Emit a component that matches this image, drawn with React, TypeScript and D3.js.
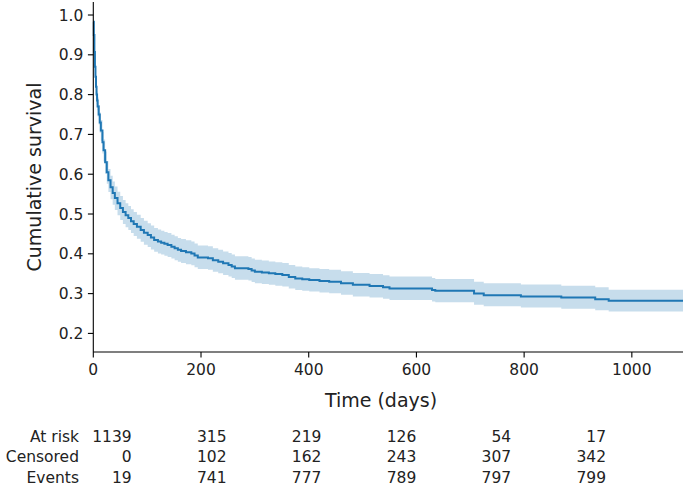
import React from "react";
import * as d3 from "d3";

const times = [0, 1, 2, 3, 4, 5, 6, 7, 8, 10, 12, 14, 17, 19, 22, 25, 28, 32, 36, 40, 45, 50, 55, 60, 65, 70, 75, 81, 88, 94, 101, 107, 113, 120, 126, 132, 138, 145, 151, 157, 163, 172, 182, 188, 194, 213, 222, 232, 241, 251, 257, 263, 288, 294, 300, 313, 326, 338, 351, 363, 375, 388, 401, 420, 438, 460, 482, 513, 538, 550, 629, 635, 707, 725, 794, 869, 932, 957, 1095];
const survival = [0.983, 0.95, 0.907, 0.87, 0.845, 0.82, 0.8, 0.785, 0.77, 0.75, 0.73, 0.71, 0.68, 0.66, 0.63, 0.605, 0.585, 0.567, 0.553, 0.54, 0.527, 0.515, 0.505, 0.497, 0.49, 0.482, 0.475, 0.468, 0.46, 0.453, 0.447, 0.441, 0.435, 0.431, 0.428, 0.425, 0.422, 0.418, 0.414, 0.41, 0.407, 0.404, 0.401, 0.396, 0.391, 0.389, 0.384, 0.38, 0.376, 0.372, 0.368, 0.364, 0.362, 0.358, 0.355, 0.353, 0.351, 0.349, 0.347, 0.342, 0.338, 0.336, 0.334, 0.332, 0.33, 0.326, 0.322, 0.319, 0.316, 0.313, 0.309, 0.307, 0.3, 0.296, 0.293, 0.29, 0.286, 0.282, 0.282];
const lowerCI = [0.974, 0.937, 0.889, 0.85, 0.823, 0.797, 0.776, 0.761, 0.745, 0.725, 0.704, 0.684, 0.652, 0.632, 0.601, 0.576, 0.555, 0.537, 0.523, 0.51, 0.497, 0.485, 0.475, 0.467, 0.46, 0.452, 0.445, 0.438, 0.43, 0.423, 0.417, 0.411, 0.405, 0.401, 0.398, 0.395, 0.392, 0.388, 0.384, 0.38, 0.377, 0.374, 0.371, 0.366, 0.362, 0.36, 0.355, 0.351, 0.347, 0.343, 0.339, 0.335, 0.333, 0.329, 0.326, 0.324, 0.322, 0.32, 0.318, 0.313, 0.309, 0.307, 0.305, 0.303, 0.301, 0.297, 0.293, 0.29, 0.287, 0.284, 0.28, 0.278, 0.272, 0.268, 0.265, 0.262, 0.258, 0.255, 0.255];
const upperCI = [0.99, 0.962, 0.923, 0.888, 0.865, 0.841, 0.822, 0.808, 0.793, 0.774, 0.755, 0.736, 0.706, 0.687, 0.657, 0.633, 0.613, 0.596, 0.582, 0.569, 0.556, 0.545, 0.535, 0.527, 0.52, 0.512, 0.505, 0.498, 0.49, 0.483, 0.477, 0.471, 0.465, 0.461, 0.458, 0.455, 0.452, 0.448, 0.444, 0.44, 0.437, 0.434, 0.431, 0.426, 0.421, 0.419, 0.414, 0.41, 0.406, 0.402, 0.398, 0.394, 0.392, 0.388, 0.385, 0.383, 0.381, 0.379, 0.377, 0.372, 0.368, 0.366, 0.364, 0.362, 0.36, 0.356, 0.352, 0.349, 0.346, 0.343, 0.339, 0.337, 0.33, 0.326, 0.323, 0.32, 0.316, 0.31, 0.31];

const xTicks = [0, 200, 400, 600, 800, 1000];
const yTicks = [0.2, 0.3, 0.4, 0.5, 0.6, 0.7, 0.8, 0.9, 1.0];

const rowLabels = ["At risk", "Censored", "Events"];
const atRisk = [1139, 315, 219, 126, 54, 17];
const censored = [0, 102, 162, 243, 307, 342];
const events = [19, 741, 777, 789, 797, 799];

const W = 685;
const H = 486;
const FONT = "DejaVu Sans, sans-serif";
const BLUE = "#1f77b4";
const TXT = "#222";

export default function App() {
  const x = d3.scaleLinear().domain([0, 1095]).range([93.3, 683]);
  const y = d3.scaleLinear().domain([0.1533, 1.0327]).range([352, 2]);

  const idx = times.map((_, i) => i);
  const line = d3
    .line<number>()
    .x((i) => x(times[i]))
    .y((i) => y(survival[i]))
    .curve(d3.curveStepAfter);
  const area = d3
    .area<number>()
    .x((i) => x(times[i]))
    .y0((i) => y(lowerCI[i]))
    .y1((i) => y(upperCI[i]))
    .curve(d3.curveStepAfter);

  const col = d3.scalePoint<number>().domain(atRisk.map((_, i) => i)).range([131.7, 606]);
  const rowY = d3.scalePoint<number>().domain([0, 1, 2]).range([441.5, 482.5]);
  const rows = [atRisk, censored, events];

  const x0 = x.range()[0];
  const yBottom = y.range()[0];

  return (
    <svg
      width={W}
      height={H}
      style={{ position: "absolute", left: 0, top: 0, background: "#fff" }}
      fontFamily={FONT}
    >
      <path d={area(idx) || ""} fill={BLUE} fillOpacity={0.25} stroke="none" />
      <path d={line(idx) || ""} fill="none" stroke={BLUE} strokeWidth={2} />

      <line x1={x0} x2={x0} y1={y.range()[1]} y2={yBottom} stroke="#000" strokeWidth={1.1} />
      <line x1={x0} x2={x.range()[1]} y1={yBottom} y2={yBottom} stroke="#000" strokeWidth={1.1} />

      {yTicks.map((t) => (
        <g key={"y" + t}>
          <line x1={x0 - 5.4} x2={x0} y1={y(t)} y2={y(t)} stroke="#000" strokeWidth={1.1} />
          <text x={x0 - 10} y={y(t)} dy="0.36em" textAnchor="end" fontSize={15.5} fill={TXT}>
            {t.toFixed(1)}
          </text>
        </g>
      ))}
      {xTicks.map((t) => (
        <g key={"x" + t}>
          <line x1={x(t)} x2={x(t)} y1={yBottom} y2={yBottom + 5.4} stroke="#000" strokeWidth={1.1} />
          <text x={x(t)} y={yBottom + 23} textAnchor="middle" fontSize={15.5} fill={TXT}>
            {t}
          </text>
        </g>
      ))}

      <text x={381} y={406.5} textAnchor="middle" fontSize={19} fill={TXT}>
        Time (days)
      </text>
      <text
        transform={`translate(41,${(y.range()[0] + y.range()[1]) / 2}) rotate(-90)`}
        textAnchor="middle"
        fontSize={19}
        fill={TXT}
      >
        Cumulative survival
      </text>

      {rowLabels.map((lab, r) => (
        <text key={lab} x={79} y={rowY(r)} textAnchor="end" fontSize={15.5} fill={TXT}>
          {lab}
        </text>
      ))}
      {rows.map((vals, r) =>
        vals.map((v, c) => (
          <text key={r + "-" + c} x={col(c)} y={rowY(r)} textAnchor="end" fontSize={15.5} fill={TXT}>
            {v}
          </text>
        ))
      )}
    </svg>
  );
}
